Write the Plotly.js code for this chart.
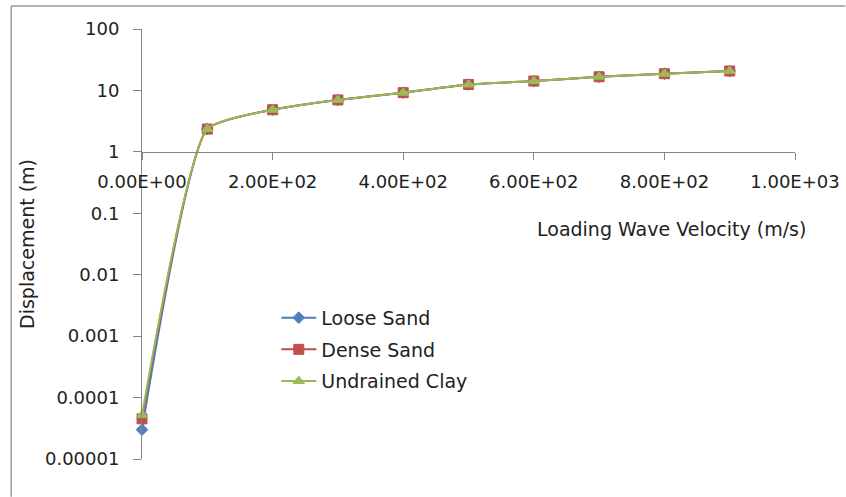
<!DOCTYPE html>
<html>
<head>
<meta charset="utf-8">
<script src="https://cdn.plot.ly/plotly-3.0.1.min.js"></script>
<style>
  html, body { margin: 0; padding: 0; background: #fff; }
  #chart { width: 846px; height: 497px; }
</style>
</head>
<body>
<div id="chart"></div>
<script>
// Loading wave velocity (m/s)
const velocity = [0, 100, 200, 300, 400, 500, 600, 700, 800, 900];

// Displacement (m) for each soil type
const looseSand     = [0.00003,  2.35, 4.85, 7.0, 9.2, 12.5, 14.2, 16.7, 18.7, 20.7];
const denseSand     = [0.000045, 2.35, 4.85, 7.0, 9.2, 12.5, 14.2, 16.7, 18.7, 20.7];
const undrainedClay = [0.000052, 2.35, 4.85, 7.0, 9.2, 12.5, 14.2, 16.7, 18.7, 20.7];

const seriesNames = ['Loose Sand', 'Dense Sand', 'Undrained Clay'];

// Axis ticks
const xTickVals   = [0, 200, 400, 600, 800, 1000];
const xTickLabels = ['0.00E+00', '2.00E+02', '4.00E+02', '6.00E+02', '8.00E+02', '1.00E+03'];
const yTickVals   = [0.00001, 0.0001, 0.001, 0.01, 0.1, 1, 10, 100];
const yTickLabels = ['0.00001', '0.0001', '0.001', '0.01', '0.1', '1', '10', '100'];

const FONT = 'DejaVu Sans, Verdana, sans-serif';
const TEXT = '#222222';
const AXIS = '#868686';

function series(name, y, lineColor, markerColor, symbol, size, group) {
  return {
    x: velocity, y: y, name: name, type: 'scatter', mode: 'lines+markers',
    line: { color: lineColor, width: 2, shape: 'spline', smoothing: 0.5 },
    marker: { color: markerColor, symbol: symbol, size: size,
              line: { color: markerColor, width: 1 } },
    legendgroup: group, cliponaxis: false
  };
}

const traces = [
  series(seriesNames[0], looseSand,     '#4A7EBB', '#4F81BD', 'diamond',     9,  'a'),
  series(seriesNames[1], denseSand,     '#BE4B48', '#C0504D', 'square',      10, 'b'),
  series(seriesNames[2], undrainedClay, '#98B954', '#9BBB59', 'triangle-up', 10, 'c')
];

// plot area: x=0 at 141.5px, x=1000 at 795.5px; y=100 at 29px, y=1e-5 at 459.3px
const L = 141.5, R = 846 - 795.5, T = 29, B = 497 - 459.3;
const PW = 846 - L - R, PH = 497 - T - B;
const px = v => (v - L) / PW;
const py = v => (497 - B - v) / PH;

const layout = {
  width: 846, height: 497,
  margin: { l: L, r: R, t: T, b: B, pad: 0 },
  paper_bgcolor: '#fff', plot_bgcolor: '#fff',
  font: { family: FONT, size: 18, color: TEXT },
  showlegend: true,
  legend: {
    x: px(276), y: py(299), xanchor: 'left', yanchor: 'top',
    bgcolor: 'rgba(0,0,0,0)', borderwidth: 0,
    traceorder: 'grouped', tracegroupgap: 4,
    font: { family: FONT, size: 19, color: TEXT },
    itemwidth: 35
  },
  xaxis: {
    range: [0, 1000], type: 'linear',
    anchor: 'free', position: 5 / 7,
    tickmode: 'array', tickvals: xTickVals, ticktext: xTickLabels,
    ticks: 'outside', ticklen: 7, tickwidth: 1, tickcolor: AXIS,
    showline: true, linecolor: AXIS, linewidth: 1,
    showgrid: false, zeroline: false,
    ticklabelstandoff: 7,
    tickfont: { family: FONT, size: 18, color: TEXT }
  },
  yaxis: {
    type: 'log', range: [-5, 2],
    tickmode: 'array', tickvals: yTickVals, ticktext: yTickLabels,
    ticks: 'outside', ticklen: 8, tickwidth: 1, tickcolor: AXIS,
    showline: true, linecolor: AXIS, linewidth: 1,
    showgrid: false, zeroline: false,
    ticklabelstandoff: 10,
    tickfont: { family: FONT, size: 18, color: TEXT },
    title: { text: 'Displacement (m)', font: { family: FONT, size: 19, color: TEXT }, standoff: 5 }
  },
  annotations: [{
    text: 'Loading Wave Velocity (m/s)', xref: 'paper', yref: 'paper',
    x: px(672), y: py(229), xanchor: 'center', yanchor: 'middle',
    showarrow: false, font: { family: FONT, size: 19, color: TEXT }
  }],
  shapes: [
    // outer chart frame (top and left edges)
    { type: 'line', xref: 'paper', yref: 'paper', x0: px(10.5), x1: px(846), y0: py(6), y1: py(6),
      line: { color: '#9a9a9a', width: 1.5 } },
    { type: 'line', xref: 'paper', yref: 'paper', x0: px(10.5), x1: px(10.5), y0: py(6), y1: py(497),
      line: { color: '#9a9a9a', width: 1.5 } }
  ]
};

Plotly.newPlot('chart', traces, layout, { staticPlot: true, displayModeBar: false });
</script>
</body>
</html>
